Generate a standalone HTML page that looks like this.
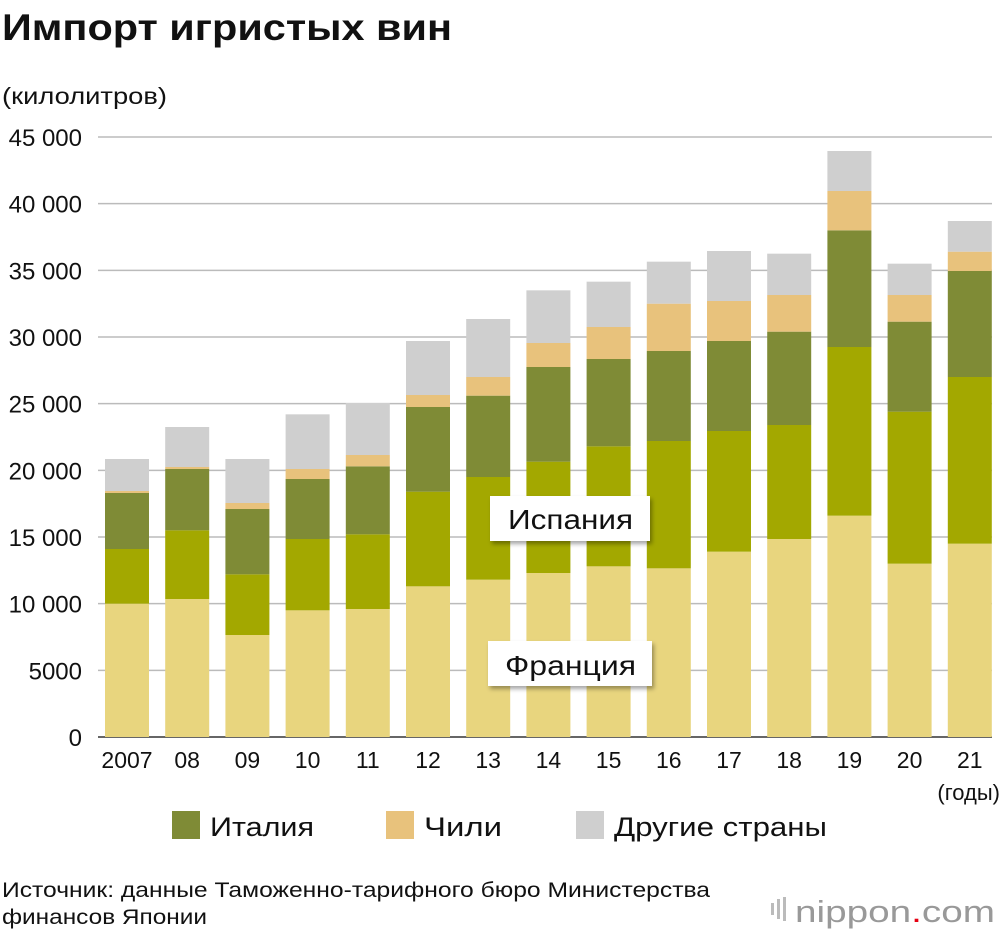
<!DOCTYPE html>
<html><head><meta charset="utf-8"><style>
body{margin:0;background:#fff;font-family:"Liberation Sans",sans-serif;}
svg text{font-family:"Liberation Sans",sans-serif;}
</style></head><body>
<svg id="chart" width="1000" height="934" xmlns="http://www.w3.org/2000/svg">
<defs><filter id="sh" x="-20%" y="-20%" width="140%" height="160%"><feDropShadow dx="2" dy="3" stdDeviation="2" flood-color="#000" flood-opacity="0.35"/></filter></defs>
<text x="2" y="40" font-size="37" font-weight="bold" fill="#111" textLength="450" lengthAdjust="spacingAndGlyphs">Импорт игристых вин</text>
<text x="2" y="104" font-size="23" fill="#111" textLength="165" lengthAdjust="spacingAndGlyphs">(килолитров)</text>
<g id="grid"></g><g id="bars"></g><g id="xlabels"></g>
<text x="1000" y="800" font-size="22" text-anchor="end" fill="#111">(годы)</text>
<g><rect x="490" y="496" width="160" height="45" fill="#fff" filter="url(#sh)"/><text x="508" y="529" font-size="28" fill="#111" textLength="125" lengthAdjust="spacingAndGlyphs">Испания</text></g>
<g><rect x="488" y="641" width="164" height="45" fill="#fff" filter="url(#sh)"/><text x="505" y="675" font-size="28" fill="#111" textLength="131" lengthAdjust="spacingAndGlyphs">Франция</text></g>
<g>
<rect x="172" y="811" width="28" height="28" fill="#7f8b36"/><text x="210" y="836" font-size="27" fill="#111" textLength="104" lengthAdjust="spacingAndGlyphs">Италия</text>
<rect x="386" y="811" width="28" height="28" fill="#e8c27c"/><text x="424" y="836" font-size="27" fill="#111" textLength="78" lengthAdjust="spacingAndGlyphs">Чили</text>
<rect x="576" y="811" width="28" height="28" fill="#cfcfcf"/><text x="614" y="836" font-size="27" fill="#111" textLength="213" lengthAdjust="spacingAndGlyphs">Другие страны</text>
</g>
<text x="2" y="897" font-size="21" fill="#111" textLength="708" lengthAdjust="spacingAndGlyphs">Источник: данные Таможенно-тарифного бюро Министерства</text>
<text x="2" y="924" font-size="21" fill="#111" textLength="205" lengthAdjust="spacingAndGlyphs">финансов Японии</text>
<g>
<rect x="771" y="903" width="3" height="12" fill="#bbb"/><rect x="777" y="899" width="3" height="20" fill="#bbb"/><rect x="783" y="897" width="3" height="24" fill="#bbb"/>
<text x="995" y="922" font-size="31" text-anchor="end" fill="#999" textLength="200" lengthAdjust="spacingAndGlyphs">nippon<tspan fill="#e60012">.</tspan>com</text>
</g>
</svg>
<script>
const years=["2007","08","09","10","11","12","13","14","15","16","17","18","19","20","21"];
const france=[10000,10350,7650,9500,9600,11300,11800,12300,12800,12650,13900,14850,16600,13000,14500];
const spain=[4100,5150,4550,5350,5600,7100,7700,8350,9000,9550,9050,8550,12650,11400,12500];
const italy=[4200,4600,4900,4500,5100,6350,6100,7100,6550,6750,6750,7000,8750,6750,7950];
const chile=[150,150,450,750,850,900,1400,1800,2400,3550,3000,2750,2950,2000,1450];
const other=[2400,3000,3300,4100,3900,4050,4350,3950,3400,3150,3750,3100,3000,2350,2300];
const yTicks=[0,5000,10000,15000,20000,25000,30000,35000,40000,45000];
const yTickLabels=["0","5000","10 000","15 000","20 000","25 000","30 000","35 000","40 000","45 000"];
const NS="http://www.w3.org/2000/svg";
const y0=737,yTop=137,yMax=45000;
function y(v){return y0-(v/yMax)*(y0-yTop);}
function x(i){return 105+i*60.2;}
const bw=44;
const grid=document.getElementById('grid');
yTicks.forEach((t,i)=>{
 const l=document.createElementNS(NS,'line');
 l.setAttribute('x1',98);l.setAttribute('x2',992);l.setAttribute('y1',y(t));l.setAttribute('y2',y(t));
 l.setAttribute('stroke',t===0?'#333':'#bbb');l.setAttribute('stroke-width',1.5);
 
 
 grid.appendChild(l);
 const tx=document.createElementNS(NS,'text');
 tx.setAttribute('x',82);tx.setAttribute('y',y(t)+9);tx.setAttribute('font-size','24');tx.setAttribute('text-anchor','end');tx.setAttribute('fill','#111');
 tx.textContent=yTickLabels[i];
 
 
 grid.appendChild(tx);
});
const series=[[france,'#e8d57e','france'],[spain,'#a3a800','spain'],[italy,'#7f8b36','italy'],[chile,'#e8c27c','chile'],[other,'#cfcfcf','other']];
const bars=document.getElementById('bars'),xl=document.getElementById('xlabels');
years.forEach((yr,i)=>{
 let base=0;
 series.forEach(([arr,col,nm])=>{
  const r=document.createElementNS(NS,'rect');
  const top=base+arr[i];
  r.setAttribute('x',x(i));r.setAttribute('width',bw);r.setAttribute('y',y(top));r.setAttribute('height',y(base)-y(top));r.setAttribute('fill',col);
  
  
  bars.appendChild(r);base=top;
 });
 const t=document.createElementNS(NS,'text');
 t.setAttribute('x',x(i)+bw/2);t.setAttribute('y',768);t.setAttribute('font-size','23');t.setAttribute('text-anchor','middle');t.setAttribute('fill','#111');
 t.textContent=yr;
 
 
 xl.appendChild(t);
});
</script>
</body></html>
